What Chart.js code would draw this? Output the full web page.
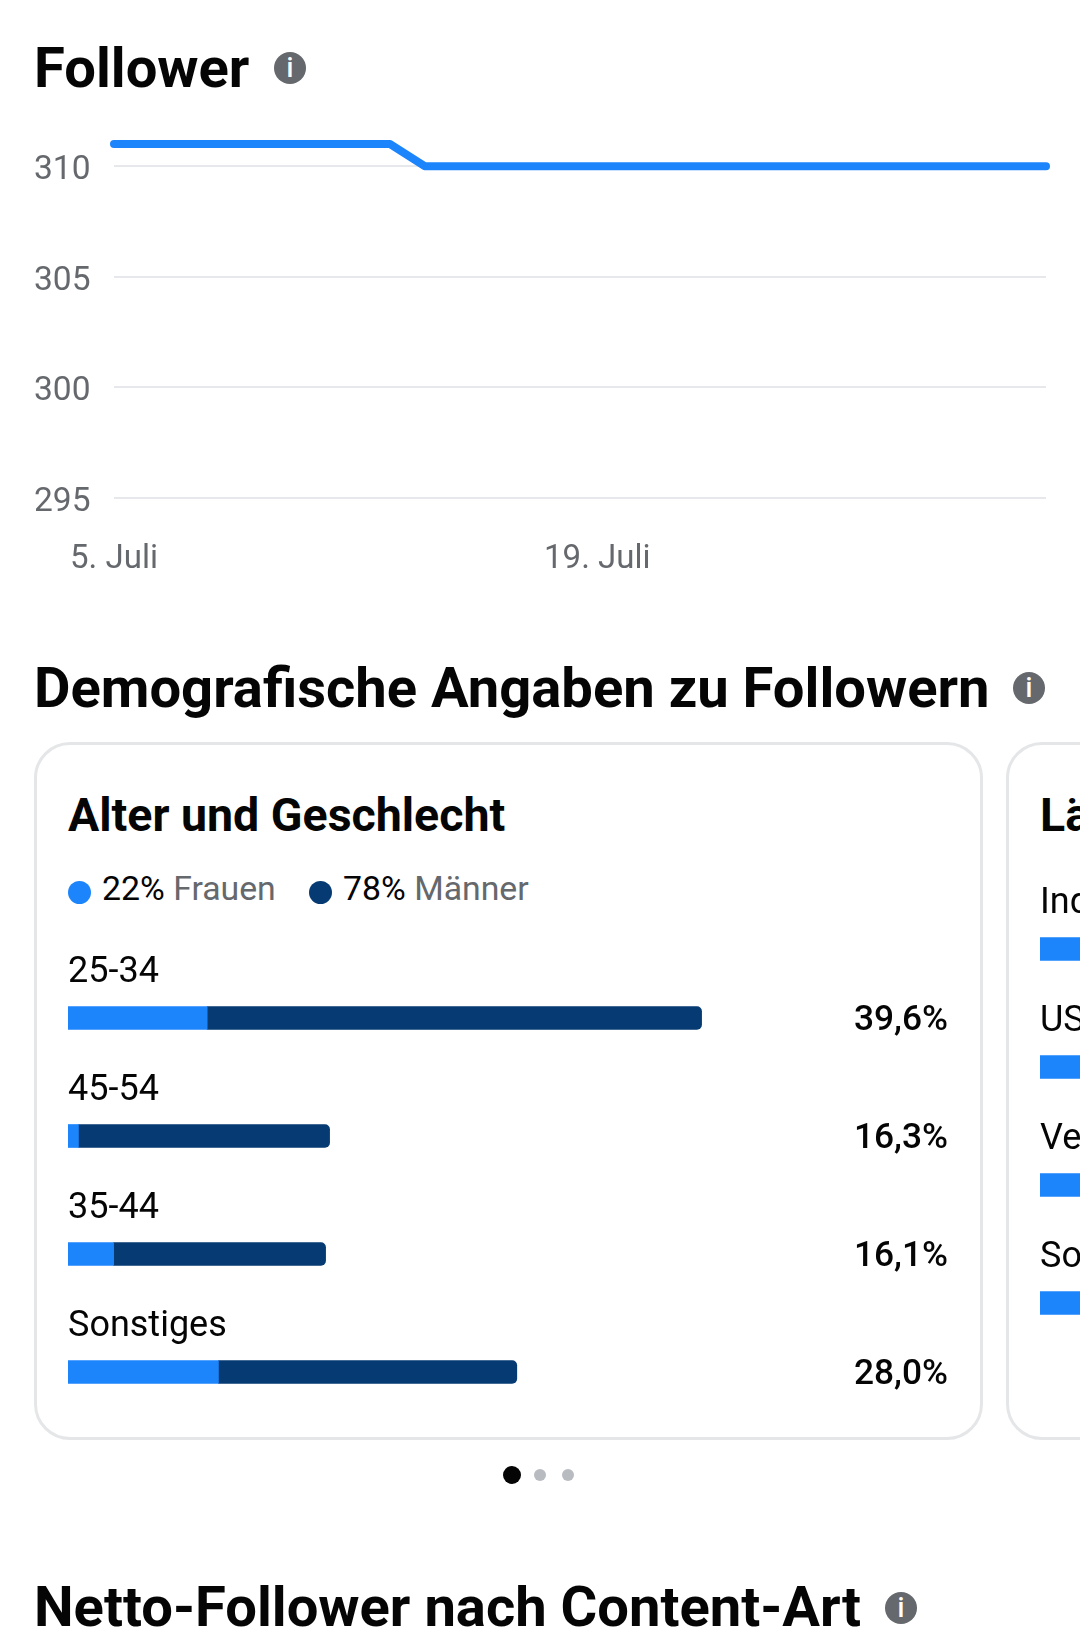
<!DOCTYPE html>
<html lang="de">
<head>
<meta charset="utf-8">
<title>Follower</title>
<script src="https://cdn.jsdelivr.net/npm/chart.js@4"></script>
<style>
html,body{margin:0;padding:0;background:#fff;width:1080px;height:1635px;overflow:hidden}
body{position:relative;font-family:Roboto,sans-serif;color:#050505}
.abs{position:absolute;white-space:nowrap}
canvas{position:absolute;display:block}
.h{font-weight:700;font-size:56.15px;line-height:60px;left:34px}
.h2{font-weight:700;font-size:46.5px;line-height:50px}
.info{position:absolute;width:32px;height:32px;border-radius:50%;background:#65686c;color:#fff;font:500 27px/32px Roboto,sans-serif;text-align:center}
.card{position:absolute;box-sizing:border-box;border:3px solid #e4e6e8;border-radius:36px;top:742px;height:698px}
.lbl{font-size:36px;line-height:40px}
.pct{font-size:35.3px;line-height:40px;text-align:right;font-weight:500}
.dot{position:absolute;border-radius:50%}
.leg{font-size:33.8px;line-height:40px;top:869px}
.leg span{color:#65686c}
</style>
</head>
<body>
<div class="abs h" style="top:38px">Follower</div>
<div class="info" style="left:274px;top:52px">i</div>
<canvas id="lineChart" width="1080" height="500" style="left:0;top:100px;width:1080px;height:500px"></canvas>

<div class="abs h" style="top:658px;">Demografische Angaben zu Followern</div>
<div class="info" style="left:1013px;top:672px">i</div>

<div class="card" style="left:34px;width:949px"></div>
<div class="card" style="left:1006px;width:600px"></div>

<div class="abs h2" style="left:68px;top:790px">Alter und Geschlecht</div>
<div class="abs h2" style="left:1040px;top:790px">Länder</div>

<div class="dot" style="left:68px;top:881px;width:23px;height:23px;background:#1d85fc"></div>
<div class="abs leg" style="left:102px">22% <span>Frauen</span></div>
<div class="dot" style="left:309px;top:881px;width:23px;height:23px;background:#063a72"></div>
<div class="abs leg" style="left:343px">78% <span>Männer</span></div>

<canvas id="ageChart" width="800" height="472" style="left:68px;top:959px;width:800px;height:472px"></canvas>
<canvas id="countryChart" width="500" height="472" style="left:1040px;top:890px;width:500px;height:472px"></canvas>
<div id="texts"></div>

<div class="dot" style="left:503px;top:1466px;width:18px;height:18px;background:#050505"></div>
<div class="dot" style="left:534px;top:1469px;width:12px;height:12px;background:#b8bbc0"></div>
<div class="dot" style="left:562px;top:1469px;width:12px;height:12px;background:#b8bbc0"></div>

<div class="abs h" style="top:1577px">Netto-Follower nach Content-Art</div>
<div class="info" style="left:885px;top:1592px">i</div>

<script>
const days = ['5. Juli','6. Juli','7. Juli','8. Juli','9. Juli','10. Juli','11. Juli','12. Juli','13. Juli','14. Juli','15. Juli','16. Juli','17. Juli','18. Juli','19. Juli','20. Juli','21. Juli','22. Juli','23. Juli','24. Juli','25. Juli','26. Juli','27. Juli','28. Juli','29. Juli','30. Juli','31. Juli','1. Aug.'];
const followers = [311,311,311,311,311,311,311,311,311,310,310,310,310,310,310,310,310,310,310,310,310,310,310,310,310,310,310,310];
const yTicks = [295,300,305,310];
const xTickLabels = ['5. Juli','19. Juli'];

const ageGroups = ['25-34','45-54','35-44','Sonstiges'];
const women = [8.7,0.65,2.85,9.4];
const men = [30.9,15.7,13.25,18.65];
const ageShares = ['39,6%','16,3%','16,1%','28,0%'];

const countries = ['Indien','USA','Venezuela','Sonstiges'];
const countryValues = [27,11,8,54];

const BLUE='#1d85fc', NAVY='#063a72', GRID='#e7e8ec', GRAY='#65686c';
Chart.defaults.animation=false;
Chart.defaults.responsive=false;
Chart.defaults.events=[];
Chart.defaults.font.family='Roboto, sans-serif';
Chart.defaults.plugins.legend.display=false;
Chart.defaults.plugins.tooltip.enabled=false;

new Chart(document.getElementById('lineChart'),{
  type:'line',
  data:{labels:days,datasets:[{data:followers,borderColor:BLUE,borderWidth:8,pointRadius:0,tension:0,clip:false,borderCapStyle:'round',borderJoinStyle:'round'}]},
  options:{
    layout:{padding:{left:34,right:23,top:22,bottom:0}},
    scales:{
      x:{
        grid:{display:false},border:{display:false},
        afterFit(s){s.height=102},
        ticks:{autoSkip:false,maxRotation:0,minRotation:0,padding:34,color:GRAY,font:{size:33},
          callback(v){const l=this.getLabelForValue(v);return xTickLabels.includes(l)?l:''}}
      },
      y:{
        min:295,max:312,
        afterBuildTicks(s){s.ticks=yTicks.map(value=>({value}))},
        afterFit(s){s.width=80},
        grid:{color:GRID,lineWidth:2,drawTicks:false},border:{display:false},
        ticks:{crossAlign:'far',color:GRAY,font:{size:33.5},padding:0,labelOffset:4.5}
      }
    }
  }
});

function hbar(id,labels,datasets,max){
  return new Chart(document.getElementById(id),{
    type:'bar',
    data:{labels,datasets},
    options:{
      indexAxis:'y',
      layout:{padding:0},
      scales:{
        x:{display:false,stacked:true,min:0,max},
        y:{display:false,stacked:true}
      }
    }
  });
}
const age=hbar('ageChart',ageGroups,[
  {data:women,backgroundColor:BLUE,barThickness:23,borderSkipped:false,borderRadius:0},
  {data:men,backgroundColor:NAVY,barThickness:23,borderSkipped:false,borderRadius:{topRight:5,bottomRight:5,topLeft:0,bottomLeft:0}}
],50);
const ctry=hbar('countryChart',countries,[
  {data:countryValues,backgroundColor:BLUE,barThickness:23}
],31.25);

const box=document.getElementById('texts');
function addText(cls,txt,left,top,right){
  const d=document.createElement('div');d.className='abs '+cls;d.textContent=txt;
  d.style.top=top+'px';
  if(right!==undefined){d.style.right=right+'px'}else{d.style.left=left+'px'}
  box.appendChild(d);
}
ageGroups.forEach((g,i)=>{
  const y=959+age.scales.y.getPixelForValue(i);
  addText('lbl',g,68,y-48-20);
  addText('pct',ageShares[i],0,y-20,1080-948);
});
countries.forEach((g,i)=>{
  const y=890+ctry.scales.y.getPixelForValue(i);
  addText('lbl',g,1040,y-48-20);
});
</script>
</body>
</html>
